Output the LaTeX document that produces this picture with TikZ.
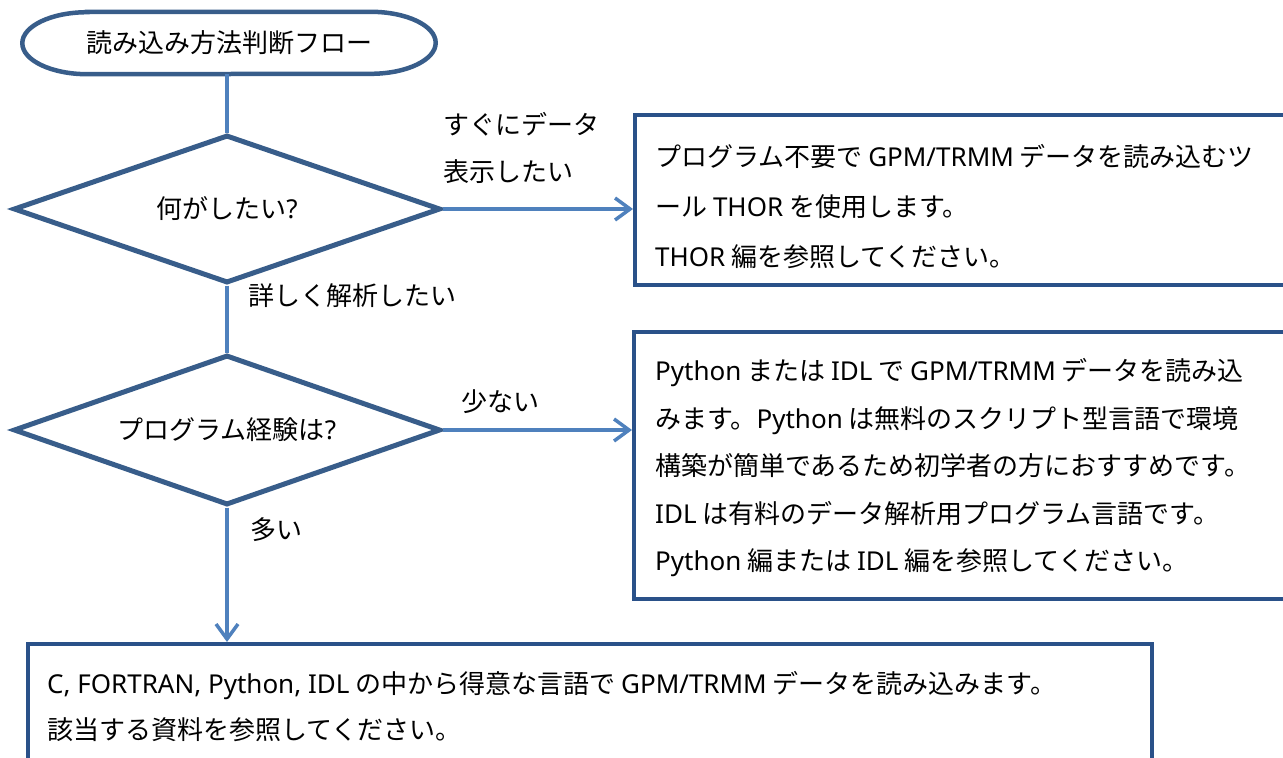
\documentclass[tikz,border=0pt]{standalone}
\usepackage{fontspec}
\setmainfont{Noto Sans CJK JP}
\newfontfamily\latinfont{Noto Sans}
\newcommand\lt[1]{{\latinfont #1}}
\usetikzlibrary{shapes.geometric,arrows.meta,calc}
\definecolor{shapeblue}{HTML}{385D8A}
\definecolor{boxblue}{HTML}{2A5189}
\definecolor{linkblue}{HTML}{4F81BD}
\begin{document}
\begin{tikzpicture}[x=1pt,y=-1pt,
  every node/.style={font=\fontsize{26}{30}\selectfont, inner sep=0pt},
  decision/.style={diamond, draw=shapeblue, line width=5pt, shape aspect=2.9, minimum width=427pt, minimum height=148pt, inner sep=0pt, fill=white},
  panel/.style={draw=boxblue, line width=4pt, fill=white, anchor=north west},
  link/.style={draw=linkblue, line width=3.5pt},
  arrowlink/.style={link, -{Straight Barb[length=15pt,width=22pt]}},
  tag/.style={align=left, anchor=west},
]
\useasboundingbox (0,0) rectangle (1283,758);
\clip (0,0) rectangle (1283,758);
\fill[white] (0,0) rectangle (1283,758);

% terminator
\node[minimum width=413pt, minimum height=62pt] (start) at (229,43) {読み込み方法判断フロー};
\draw[shapeblue, line width=4.5pt]
  ([xshift=65pt]start.north west) -- ([xshift=-65pt]start.north east)
  arc[start angle=90, end angle=-90, x radius=65pt, y radius=31pt]
  -- ([xshift=65pt]start.south west)
  arc[start angle=270, end angle=90, x radius=65pt, y radius=31pt] -- cycle;

\coordinate (d1c) at (227,209);
\coordinate (d2c) at (227,430);

% decisions
\node[decision] (d1) at (d1c) {何がしたい\lt{?}};
\node[decision, minimum height=150pt] (d2) at (d2c) {プログラム経験は\lt{?}};

% boxes
\node[panel, minimum width=700pt, minimum height=170pt] (b1) at (633,113) {};
\node[panel, minimum width=700pt, minimum height=267pt] (b2) at (632,330) {};
\node[panel, minimum width=1124pt, minimum height=160pt] (b3) at (26,642) {};

% box texts
\node[tag, font=\fontsize{26}{50}\selectfont] (t1) at (655,207)
  {プログラム不要で \lt{GPM/TRMM} データを読み込むツ\\ール \lt{THOR} を使用します。\\\lt{THOR} 編を参照してください。};
\node[tag, font=\fontsize{26}{47.5}\selectfont] (t2) at (655,468)
  {\lt{Python} または \lt{IDL} で \lt{GPM/TRMM} データを読み込\\みます。\lt{Python} は無料のスクリプト型言語で環境\\構築が簡単であるため初学者の方におすすめです。\\\lt{IDL} は有料のデータ解析用プログラム言語です。\\\lt{Python} 編または \lt{IDL} 編を参照してください。};
\node[tag, font=\fontsize{26}{46}\selectfont] (t3) at (47,707)
  {\lt{C, FORTRAN, Python, IDL} の中から得意な言語で \lt{GPM/TRMM} データを読み込みます。\\該当する資料を参照してください。};

% connector labels
\node[tag, font=\fontsize{26}{47}\selectfont] (l1) at (443,148) {すぐにデータ\\表示したい};
\node[tag] (l2) at (248,296) {詳しく解析したい};
\node (l3) at (500,402) {少ない};
\node[tag] (l4) at (250,530) {多い};

% connectors
\draw[link] (start.south -| d1.north) -- (d1.north);
\draw[arrowlink] (d1.east) -- (d1.east -| b1.west);
\draw[link] (d1.south) -- (d2.north);
\draw[arrowlink] (d2.east) -- (d2.east -| b2.west);
\draw[arrowlink] (d2.south) -- (d2.south |- b3.north);
\end{tikzpicture}
\end{document}
